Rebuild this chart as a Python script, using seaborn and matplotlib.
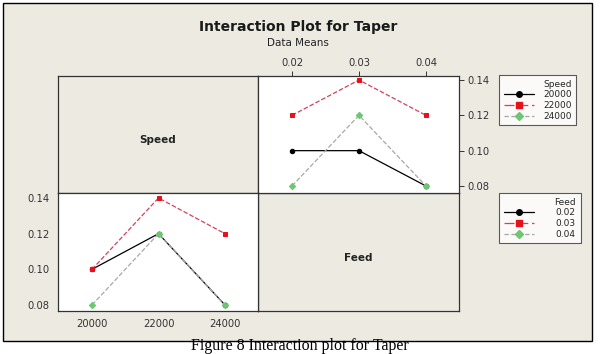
import matplotlib
matplotlib.use("Agg")
import matplotlib.pyplot as plt
import seaborn as sns
import pandas as pd
from matplotlib.lines import Line2D
from matplotlib.patches import Rectangle

sns.set_theme(style="white")
plt.rcParams['font.family'] = ['DejaVu Sans']

# ---- data ----
feed_levels = [0.02, 0.03, 0.04]
speed_levels = [20000, 22000, 24000]
speed_labels = ["20000", "22000", "24000"]
feed_labels = ["0.02", "0.03", "0.04"]
# mean taper, rows = speed, columns = feed
taper_speed_20000 = [0.10, 0.10, 0.08]
taper_speed_22000 = [0.12, 0.14, 0.12]
taper_speed_24000 = [0.08, 0.12, 0.08]
yticks = [0.08, 0.10, 0.12, 0.14]

rows = []
for sp, vals in zip(speed_levels, [taper_speed_20000, taper_speed_22000, taper_speed_24000]):
    for fd, v in zip(feed_levels, vals):
        rows.append({"Speed": sp, "Feed": fd, "Taper": v})
df = pd.DataFrame(rows)

W, H = 605, 354
fig = plt.figure(figsize=(W / 100, H / 100), dpi=100)
fig.patch.set_facecolor("white")

def rect(x0, y0, x1, y1):
    return [x0 / W, 1 - y1 / H, (x1 - x0) / W, (y1 - y0) / H]

bg = "#EDEAE2"
frame = Rectangle((3 / W, 1 - 341 / H), 589 / W, 338 / H, transform=fig.transFigure,
                  facecolor=bg, edgecolor="black", linewidth=1.0, zorder=-5)
fig.patches.append(frame)

fig.text(298 / W, 1 - 27 / H, "Interaction Plot for Taper", ha="center", va="center",
         fontsize=10, fontweight="bold", color="#1a1a1a")
fig.text(298 / W, 1 - 43 / H, "Data Means", ha="center", va="center",
         fontsize=7.5, color="#222222")
fig.text(300 / W, 1 - 353.5 / H, "Figure 8 Interaction plot for Taper", ha="center", va="bottom",
         fontsize=11.5, family=["Liberation Serif", "DejaVu Serif"], color="black")

styles = [
    dict(color="black", mfc="black", mec="black", marker="o", ls="-", dashes=None, lw=0.9),
    dict(color="#D4415A", mfc="#E8101A", mec="#E8101A", marker="s", ls="--", dashes=(8, 3), lw=0.9),
    dict(color="#A8A8A8", mfc="#6CC870", mec="#6CC870", marker="D", ls="--", dashes=(3.5, 2), lw=0.9),
]

def line_kw(st, ms=3.2):
    kw = dict(color=st["color"], marker=st["marker"], markerfacecolor=st["mfc"],
              markeredgecolor=st["mec"], markersize=ms, linewidth=st["lw"], linestyle=st["ls"])
    if st["dashes"]:
        kw["dashes"] = st["dashes"]
    return kw

# top-left (label Speed)
ax_tl = fig.add_axes(rect(58, 76, 258, 193))
ax_tl.set_facecolor(bg)
ax_tl.set_xticks([]); ax_tl.set_yticks([])
ax_tl.text(0.5, 0.45, "Speed", transform=ax_tl.transAxes, ha="center", va="center",
           fontsize=7.5, fontweight="bold", color="#222222")

# bottom-right (label Feed)
ax_br = fig.add_axes(rect(258, 193, 459, 311))
ax_br.set_facecolor(bg)
ax_br.set_xticks([]); ax_br.set_yticks([])
ax_br.text(0.5, 0.45, "Feed", transform=ax_br.transAxes, ha="center", va="center",
           fontsize=7.5, fontweight="bold", color="#222222")

# top-right: x = Feed, lines by Speed
ax_tr = fig.add_axes(rect(258, 76, 459, 193))
ax_tr.set_facecolor("white")
for sp, st in zip(speed_levels, styles):
    sub = df[df["Speed"] == sp]
    sns.lineplot(data=sub, x="Feed", y="Taper", ax=ax_tr, legend=False, **line_kw(st))
ax_tr.set_xlim(0.01493, 0.04493)
ax_tr.set_ylim(0.07603, 0.14227)
ax_tr.set_xticks(feed_levels)
ax_tr.set_xticklabels(feed_labels)
ax_tr.set_yticks(yticks)
ax_tr.set_yticklabels(["%.2f" % v for v in yticks])
ax_tr.xaxis.tick_top()
ax_tr.yaxis.tick_right()
ax_tr.set_xlabel(""); ax_tr.set_ylabel("")

# bottom-left: x = Speed, lines by Feed
ax_bl = fig.add_axes(rect(58, 193, 258, 311))
ax_bl.set_facecolor("white")
for fd, st in zip(feed_levels, styles):
    sub = df[df["Feed"] == fd]
    sns.lineplot(data=sub, x="Speed", y="Taper", ax=ax_bl, legend=False, **line_kw(st))
ax_bl.set_xlim(18977, 24992)
ax_bl.set_ylim(0.07664, 0.1428)
ax_bl.set_xticks(speed_levels)
ax_bl.set_xticklabels(speed_labels)
ax_bl.set_yticks(yticks)
ax_bl.set_yticklabels(["%.2f" % v for v in yticks])
ax_bl.set_xlabel(""); ax_bl.set_ylabel("")

for ax in (ax_tl, ax_tr, ax_bl, ax_br):
    for s in ax.spines.values():
        s.set_color("#333333")
        s.set_linewidth(0.9)
for ax in (ax_tr, ax_bl):
    ax.tick_params(axis="both", which="both", direction="out", length=3.5, width=0.7,
                   color="#333333", labelsize=7.2, labelcolor="#333333", pad=2.5)

legend_kw = dict(loc="upper left", fontsize=6.5, title_fontsize=6.5,
                 frameon=True, fancybox=False, edgecolor="#333333", facecolor="white",
                 handlelength=3.4, handletextpad=1.0, borderpad=0.5, labelspacing=0.2,
                 alignment="right", borderaxespad=0)
leg1 = fig.legend([Line2D([], [], **line_kw(st, 4)) for st in styles], speed_labels,
                  title="Speed", bbox_to_anchor=(499 / W, 1 - 75 / H), **legend_kw)
leg1.get_frame().set_linewidth(0.8)
leg2 = fig.legend([Line2D([], [], **line_kw(st, 4)) for st in styles], feed_labels,
                  title="Feed", bbox_to_anchor=(499 / W, 1 - 193 / H),
                  **{**legend_kw, "handletextpad": 2.4})
leg2.get_frame().set_linewidth(0.8)

fig.savefig("out.png", dpi=100, facecolor="white")
